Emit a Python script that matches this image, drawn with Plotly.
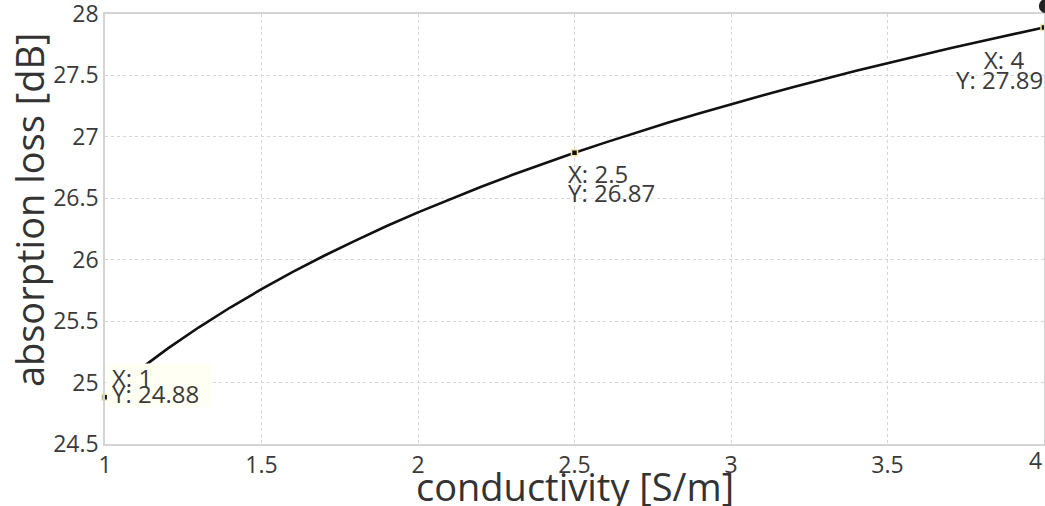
import plotly.graph_objects as go

# data
conductivity = [1.0, 1.1, 1.2, 1.3, 1.4, 1.5, 1.6, 1.7, 1.8, 1.9, 2.0, 2.1, 2.2, 2.3, 2.4, 2.5,
                2.6, 2.7, 2.8, 2.9, 3.0, 3.1, 3.2, 3.3, 3.4, 3.5, 3.6, 3.7, 3.8, 3.9, 4.0]
absorption_loss = [24.880, 25.087, 25.276, 25.450, 25.611, 25.760, 25.901, 26.032, 26.156, 26.274,
                   26.385, 26.491, 26.592, 26.689, 26.781, 26.870, 26.955, 27.037, 27.116, 27.192,
                   27.266, 27.337, 27.406, 27.473, 27.538, 27.600, 27.662, 27.721, 27.779, 27.835,
                   27.890]
tip_x = [1.0, 2.5, 4.0]
tip_y = [24.88, 26.87, 27.89]
x_ticks = [1, 1.5, 2, 2.5, 3, 3.5]
x_tick_labels = ["1", "1.5", "2", "2.5", "3", "3.5"]
x_last_tick = 4
y_ticks = [24.5, 25, 25.5, 26, 26.5, 27, 27.5, 28]
y_tick_labels = ["24.5", "25", "25.5", "26", "26.5", "27", "27.5", "28"]

FONT = "Open Sans"
TXT = "#3a3a3a"
TICK_SIZE = 23

fig = go.Figure()
fig.add_trace(go.Scatter(x=conductivity, y=absorption_loss, mode="lines",
                         line=dict(color="#111111", width=2.6),
                         showlegend=False, hoverinfo="skip"))
fig.add_trace(go.Scatter(x=tip_x, y=tip_y, mode="markers",
                         marker=dict(symbol="square", size=6, color="#111111",
                                     line=dict(color="#efe8a8", width=1.5)),
                         showlegend=False, cliponaxis=False))

axis_common = dict(showgrid=True, gridcolor="#d6d6d6", griddash="dot", gridwidth=1,
                   showline=True, linecolor="#d4d4d4", linewidth=1.5, mirror=True,
                   zeroline=False, ticks="", ticklabeloverflow="allow", automargin=False,
                   tickfont=dict(family=FONT, size=TICK_SIZE, color=TXT))

fig.update_layout(
    width=1045, height=506,
    margin=dict(l=105, r=1, t=14, b=62, autoexpand=False),
    paper_bgcolor="white", plot_bgcolor="white",
    xaxis=dict(range=[1, 4], tickvals=x_ticks + [x_last_tick], ticktext=x_tick_labels + [""],
               **axis_common),
    yaxis=dict(range=[24.5, 28], tickvals=y_ticks, ticktext=y_tick_labels, **axis_common),
    shapes=[
        dict(type="rect", xref="x", yref="y", x0=1.006, x1=1.34, y0=24.80, y1=25.155,
             fillcolor="rgb(255,255,244)", line=dict(width=0), layer="above"),
        dict(type="circle", xref="paper", yref="paper", x0=0.9945, x1=1.0095,
             y0=1.002, y1=1.035, fillcolor="#222222", line=dict(width=0), layer="above"),
    ],
)

# last x tick label (drawn as text so it is not dropped at the edge)
fig.add_annotation(xref="x", yref="paper", x=x_last_tick, y=-0.038, yanchor="middle",
                   xanchor="right", text=str(x_last_tick), showarrow=False,
                   font=dict(family=FONT, size=TICK_SIZE, color=TXT))

ann_font = dict(family=FONT, size=24, color=TXT)
anns = [
    dict(x=1.02, y=25.045, text="X: 1", xanchor="left"),
    dict(x=1.02, y=24.915, text="Y: 24.88", xanchor="left"),
    dict(x=2.477, y=26.70, text="X: 2.5", xanchor="left"),
    dict(x=2.477, y=26.545, text="Y: 26.87", xanchor="left"),
    dict(x=3.872, y=27.63, text="X: 4", xanchor="center"),
    dict(x=3.999, y=27.47, text="Y: 27.89", xanchor="right"),
]
for a in anns:
    fig.add_annotation(xref="x", yref="y", yanchor="middle", showarrow=False,
                       font=ann_font, borderpad=0, **a)

fig.add_annotation(xref="paper", yref="paper", x=0.5, y=-0.098, yanchor="middle",
                   text="conductivity [S/m]", showarrow=False,
                   font=dict(family=FONT, size=38, color="#333333"))
fig.add_annotation(xref="paper", yref="paper", x=-0.0815, y=0.545, xanchor="center",
                   yanchor="middle", textangle=-90, text="absorption loss [dB]",
                   showarrow=False, font=dict(family=FONT, size=38, color="#333333"))

fig.write_html("out.html")
